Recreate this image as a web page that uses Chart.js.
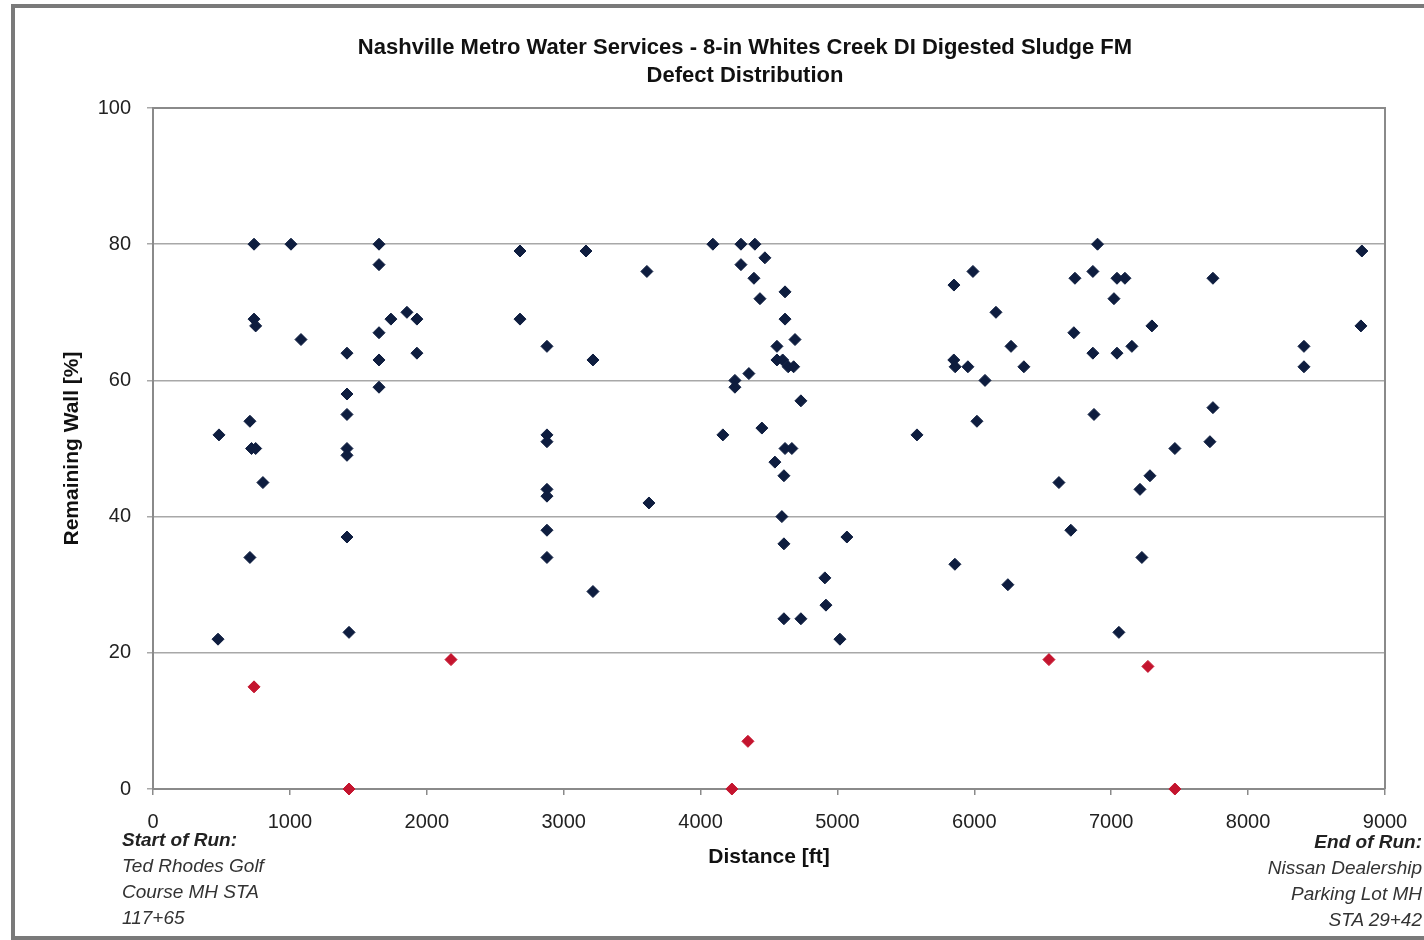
<!DOCTYPE html>
<html>
<head>
<meta charset="utf-8">
<script src="https://cdn.jsdelivr.net/npm/chart.js@4.4.1/dist/chart.umd.min.js"></script>
<style>
    html, body { margin: 0; padding: 0; background: #fff; }
    #wrap { position: relative; width: 1424px; height: 940px; overflow: hidden; font-family: "Liberation Sans", Arial, sans-serif; }
    #frame { position: absolute; left: 11px; top: 4px; width: 1440px; height: 928px; border: 4px solid #7a7a7a; border-right: none; }
    canvas { position: absolute; left: 0; top: 0; }
    #title { position: absolute; left: 345px; width: 800px; top: 33px; text-align: center; font-size: 22px; line-height: 28px; font-weight: bold; color: #111; white-space: nowrap; }
    .note { position: absolute; font-size: 19px; line-height: 26px; font-style: italic; color: #333; white-space: nowrap; }
    .note b { color: #222; }
    #start { left: 122px; top: 827px; }
    #end { right: 2px; top: 829px; text-align: right; }
</style>
</head>
<body>
<div id="wrap">
    <div id="frame"></div>
    <canvas id="chart" width="1424" height="940"></canvas>
    <div id="title">Nashville Metro Water Services - 8-in Whites Creek DI Digested Sludge FM<br>Defect Distribution</div>
    <div class="note" id="start"><b>Start of Run:</b><br>Ted Rhodes Golf<br>Course MH STA<br>117+65</div>
    <div class="note" id="end"><b>End of Run:</b><br>Nissan Dealership<br>Parking Lot MH<br>STA 29+42</div>
</div>
<script>
// defects above 20% remaining wall
const blueDistance = [475, 738, 1008, 738, 750, 1081, 708, 482, 720, 750, 803, 708,
    1417, 1417, 1417, 1417, 1417, 1417, 1432, 1651, 1651, 1738, 1855, 1928, 1651, 1651, 1651, 1928,
    2681, 3163, 3608, 4090, 4295, 4397, 4470, 4295, 4390, 4434, 4617, 2681, 4617, 4690, 2878, 3214,
    4558, 4558, 4600, 4640, 4680, 4353, 4251, 4251, 4733, 2878, 2878, 4163, 4448, 4617, 4667, 4543,
    4609, 2878, 2878, 3623, 4594, 2878, 4609, 2878, 3214, 5069, 4908, 4916, 4609, 4733, 5018,
    5581, 5851, 5990, 6158, 5850, 5860, 5953, 6268, 6362, 6078, 6019, 5858, 6245, 6618, 6705,
    6735, 6866, 6900, 6727, 6866, 6874, 7042, 7100, 7020, 7042, 7151, 7297, 7743, 8408, 8408,
    8831, 8824, 7743, 7721, 7465, 7283, 7210, 7224, 7056];
const blueWall = [22, 80, 80, 69, 68, 66, 54, 52, 50, 50, 45, 34,
    64, 58, 55, 50, 49, 37, 23, 80, 77, 69, 70, 69, 67, 63, 59, 64,
    79, 79, 76, 80, 80, 80, 78, 77, 75, 72, 73, 69, 69, 66, 65, 63,
    65, 63, 63, 62, 62, 61, 60, 59, 57, 52, 51, 52, 53, 50, 50, 48,
    46, 44, 43, 42, 40, 38, 36, 34, 29, 37, 31, 27, 25, 25, 22,
    52, 74, 76, 70, 63, 62, 62, 65, 62, 60, 54, 33, 30, 45, 38,
    75, 76, 80, 67, 64, 55, 75, 75, 72, 64, 65, 68, 75, 65, 62,
    79, 68, 56, 51, 50, 46, 44, 34, 23];
// defects at or below 20%
const redDistance = [738, 1432, 2177, 4229, 4346, 6545, 7268, 7465];
const redWall = [15, 0, 19, 0, 7, 19, 18, 0];

const xTicks = [0, 1000, 2000, 3000, 4000, 5000, 6000, 7000, 8000, 9000];
const yTicks = [0, 20, 40, 60, 80, 100];

const toPoints = (xs, ys) => xs.map((x, i) => ({ x, y: ys[i] }));

const frameBox = {
    id: "frameBox",
    beforeDatasetsDraw(chart) {
        const { ctx, chartArea: a } = chart;
        ctx.save();
        ctx.strokeStyle = "#8a8a8a";
        ctx.lineWidth = 2;
        ctx.beginPath();
        ctx.moveTo(a.left, a.top);
        ctx.lineTo(a.right, a.top);
        ctx.lineTo(a.right, a.bottom);
        ctx.stroke();
        ctx.restore();
    }
};

const font = "'Liberation Sans', Arial, sans-serif";

new Chart(document.getElementById("chart"), {
    type: "scatter",
    data: {
        datasets: [
            { data: toPoints(blueDistance, blueWall), backgroundColor: "#0e1d3f", borderColor: "#0e1d3f", pointStyle: "rectRot", pointRadius: 6, pointHoverRadius: 6, clip: false },
            { data: toPoints(redDistance, redWall), backgroundColor: "#c4142e", borderColor: "#c4142e", pointStyle: "rectRot", pointRadius: 6, pointHoverRadius: 6, clip: false }
        ]
    },
    options: {
        responsive: false,
        animation: false,
        layout: { padding: { left: 0, right: 39, top: 108, bottom: 11 } },
        plugins: {
            legend: { display: false },
            tooltip: { enabled: false },
            title: { display: false }
        },
        scales: {
            x: {
                type: "linear",
                min: 0,
                max: 9000,
                afterBuildTicks: s => { s.ticks = xTicks.map(v => ({ value: v })); },
                afterFit: s => { s.height = 140; },
                grid: { drawOnChartArea: false, drawTicks: true, tickLength: 6, color: "#8a8a8a", lineWidth: 1.5 },
                border: { color: "#8a8a8a", width: 2 },
                ticks: { color: "#222", padding: 15, font: { family: font, size: 20 }, callback: v => String(v) },
                title: { display: true, text: "Distance [ft]", color: "#111", font: { family: font, size: 21, weight: "bold" }, padding: { top: 0, bottom: 59.4 } }
            },
            y: {
                type: "linear",
                min: 0,
                max: 100,
                afterBuildTicks: s => { s.ticks = yTicks.map(v => ({ value: v })); },
                afterFit: s => { s.width = 153; },
                grid: { color: "#a8a8a8", lineWidth: 1.5, drawTicks: true, tickLength: 6 },
                border: { color: "#8a8a8a", width: 2 },
                ticks: { color: "#222", padding: 16, font: { family: font, size: 20 }, callback: v => String(v) },
                title: { display: true, text: "Remaining Wall [%]", color: "#111", font: { family: font, size: 21, weight: "bold" }, padding: { top: 59.4, bottom: 0 } }
            }
        }
    },
    plugins: [frameBox]
});
</script>
</body>
</html>
